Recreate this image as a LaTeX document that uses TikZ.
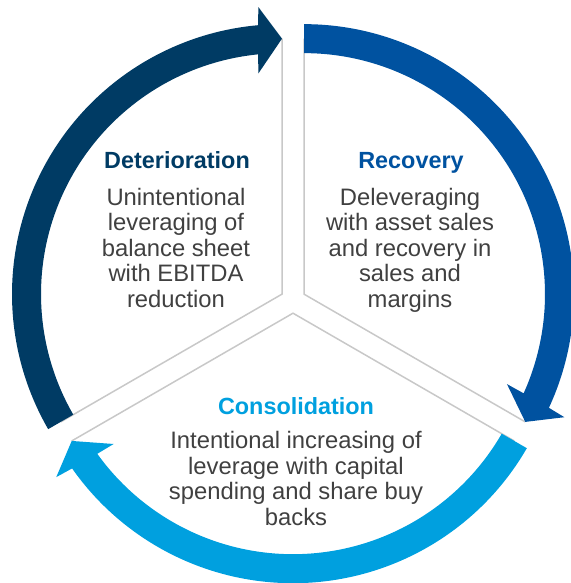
\documentclass[tikz,border=0pt]{standalone}
\usepackage{fontspec}
\setmainfont{Liberation Sans}
\definecolor{cNavy}{HTML}{003B64}
\definecolor{cBlue}{HTML}{0052A0}
\definecolor{cLight}{HTML}{00A0DF}
\definecolor{cText}{HTML}{404040}
\definecolor{cDiv}{HTML}{C8C8C8}
% #1 centre, #2 start angle, #3 tip angle, #4 colour
\newcommand{\cyclearrow}[4]{%
  \fill[#4] ([shift={(#2:270)}]#1)
    arc[start angle=#2, end angle={#3+5.1}, radius=270]
    -- ([shift={({#3+4.7}:288)}]#1)
    -- ([shift={(#3:255.5)}]#1)
    -- ([shift={({#3+6.1}:222)}]#1)
    -- ([shift={({#3+5.7}:241)}]#1)
    arc[start angle={#3+5.7}, end angle=#2, radius=241]
    -- cycle;}
\begin{document}
\begin{tikzpicture}[x=1pt,y=1pt,
  divider/.style={draw=cDiv, line width=1.5pt},
  ttl/.style={font=\fontsize{23.4}{25.5}\selectfont\bfseries, inner sep=0pt, anchor=base},
  bodytext/.style={font=\fontsize{23.8}{25.5}\selectfont, text=cText, align=center, inner sep=0pt, anchor=north}]
\useasboundingbox (0,0) rectangle (570,583);
\coordinate (cd) at (282,288.85);
\coordinate (cb) at (304,288.85);
\coordinate (cl) at (293,269.8);
% sector edges
\coordinate (d90) at ([shift={(90:255.5)}]cd);
\coordinate (d210) at ([shift={(210:255.5)}]cd);
\coordinate (b90) at ([shift={(90:255.5)}]cb);
\coordinate (b330) at ([shift={(330:255.5)}]cb);
\coordinate (l330) at ([shift={(330:255.5)}]cl);
\coordinate (l210) at ([shift={(210:255.5)}]cl);
\draw[divider] (d90) -- (cd) -- (d210);
\draw[divider] (b90) -- (cb) -- (b330);
\draw[divider] (l330) -- (cl) -- (l210);
% arrows
\cyclearrow{cd}{210}{90}{cNavy}
\cyclearrow{cb}{90}{-30}{cBlue}
\cyclearrow{cl}{-30}{-150}{cLight}
% texts
\node[ttl, text=cNavy] (dettitle) at (177,414.7) {Deterioration};
\node[bodytext] (detbody) at (176,395.6) {\strut Unintentional\\leveraging of\\balance sheet\\with EBITDA\\reduction};
\node[ttl, text=cBlue] (rectitle) at (411,414.7) {Recovery};
\node[bodytext] (recbody) at (410,395.6) {\strut Deleveraging\\with asset sales\\and recovery in\\sales and\\margins};
\node[ttl, text=cLight] (contitle) at (296,168.5) {Consolidation};
\node[bodytext] (conbody) at (296,152.2) {\strut Intentional increasing of\\leverage with capital\\spending and share buy\\backs};
\end{tikzpicture}
\end{document}
